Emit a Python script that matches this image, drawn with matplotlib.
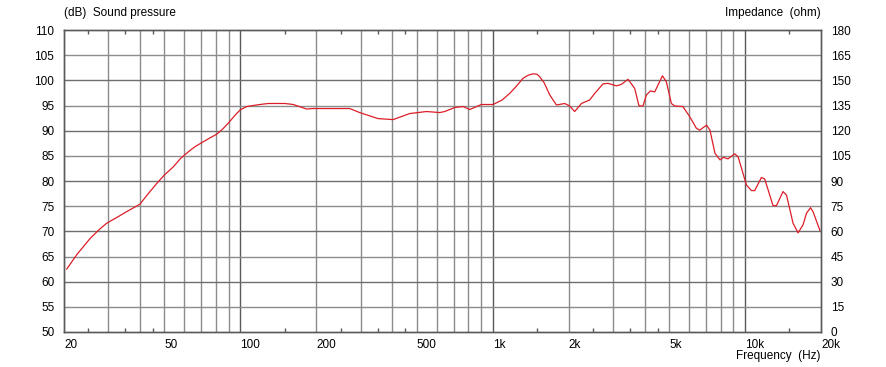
import matplotlib.pyplot as plt
import matplotlib.ticker as mticker

# frequency response
freq = [20.5, 22.5, 25.4, 27.5, 29.5, 32.5, 35.4, 40, 43, 46.6, 50, 54.2,
        58, 62.2, 66, 71.3, 76, 80.6, 85, 89.6, 95, 99.7, 105.9, 119.6, 129,
        150, 162, 183, 194, 271, 297, 351, 403, 469, 546, 617, 645, 707, 763,
        811, 902, 1003, 1090, 1168, 1240, 1318, 1380, 1445, 1500, 1536, 1600,
        1683, 1789, 1929, 2019, 2113, 2247, 2424, 2536, 2737, 2864, 3092,
        3236, 3438, 3653, 3800, 3940, 4065, 4218, 4385, 4706, 4878, 5106,
        5261, 5670, 6035, 6410, 6610, 7040, 7260, 7600, 7960, 8210, 8560,
        9100, 9390, 10128, 10600, 10925, 11614, 11968, 12910, 13320, 14140,
        14600, 15500, 16230, 16980, 17520, 18170, 18600, 19800]
spl = [62.5, 65.4, 68.6, 70.3, 71.6, 72.8, 73.9, 75.4, 77.4, 79.5, 81.2, 82.8,
       84.5, 85.8, 86.8, 87.8, 88.6, 89.3, 90.3, 91.5, 93.0, 94.1, 94.8, 95.2,
       95.4, 95.4, 95.2, 94.3, 94.4, 94.4, 93.6, 92.4, 92.2, 93.4, 93.8,
       93.6, 93.8, 94.6, 94.8, 94.2, 95.2, 95.2, 96.1, 97.4, 98.8, 100.4,
       101.0, 101.3, 101.2, 100.7, 99.5, 97.1, 95.1, 95.4, 94.9, 93.8, 95.4,
       96.1, 97.4, 99.3, 99.4, 98.9, 99.2, 100.2, 98.4, 94.9, 94.9, 97.1,
       97.9, 97.7, 100.9, 99.7, 95.4, 94.9, 94.8, 92.8, 90.5, 90.1, 91.1,
       90.1, 85.5, 84.2, 84.7, 84.4, 85.4, 84.8, 79.2, 78.1, 78.1, 80.7,
       80.4, 75.1, 75.1, 77.9, 77.2, 71.6, 69.7, 71.3, 73.6, 74.7, 73.9,
       70.2]

x_ticks = [20, 50, 100, 200, 500, 1000, 2000, 5000, 10000, 20000]
x_labels = ['20', '50', '100', '200', '500', '1k', '2k', '5k', '10k', '20k']
db_ticks = list(range(50, 111, 5))
ohm_labels = [str(v) for v in range(0, 181, 15)]

plt.rcParams['font.family'] = ['Liberation Sans', 'DejaVu Sans']
fig = plt.figure(figsize=(8.86, 3.67), dpi=100)
ax = fig.add_axes([64 / 886, 1 - 332 / 367, 757 / 886, 302 / 367])

ax.set_xscale('log')
ax.set_xlim(20, 20000)
ax.set_ylim(50, 110)

# grid
for d in [10, 100, 1000, 10000]:
    for m in range(1, 10):
        f = d * m
        if f <= 20 or f >= 20000:
            continue
        major = m == 1
        ax.axvline(f, color='#5a5a5a' if major else '#8c8c8c', lw=1.0, zorder=1)
for v in db_ticks[1:-1]:
    ax.axhline(v, color='#6e6e6e' if v % 10 == 0 else '#8c8c8c', lw=1.0, zorder=1)

ax.plot(freq, spl, color='#dc1e28', lw=0.9, zorder=3)

ax.xaxis.set_major_locator(mticker.FixedLocator(x_ticks))
ax.xaxis.set_major_formatter(mticker.FixedFormatter(x_labels))
ax.xaxis.set_minor_locator(mticker.FixedLocator(
    [25, 35, 45, 150, 250, 350, 450, 1500, 2500, 3500, 4500, 15000]))
ax.xaxis.set_minor_formatter(mticker.NullFormatter())
ax.tick_params(axis='x', which='major', length=0, pad=5, labelsize=8.5)
ax.tick_params(axis='x', which='minor', direction='in', length=3,
               top=True, bottom=True, color='#5a5a5a', width=1)
for lab in ax.get_xticklabels():
    lab.set_horizontalalignment('left')

ax.set_yticks(db_ticks)
ax.tick_params(axis='y', length=0, pad=7, labelsize=8.5)

ax2 = ax.twinx()
ax2.set_ylim(50, 110)
ax2.set_yticks(db_ticks)
ax2.set_yticklabels(ohm_labels)
ax2.tick_params(axis='y', length=0, pad=7, labelsize=8.5)

for a in (ax, ax2):
    for s in a.spines.values():
        s.set_color('#5a5a5a')
        s.set_linewidth(1.0)

fig.text(64 / 886, 1 - 13 / 367, '(dB)  Sound pressure', fontsize=8.5,
         ha='left', va='center')
fig.text(821 / 886, 1 - 13 / 367, 'Impedance  (ohm)', fontsize=8.5,
         ha='right', va='center')
fig.text(821 / 886, 1 - 356 / 367, 'Frequency  (Hz)', fontsize=8.5,
         ha='right', va='center')

fig.savefig('out.png', dpi=100)
